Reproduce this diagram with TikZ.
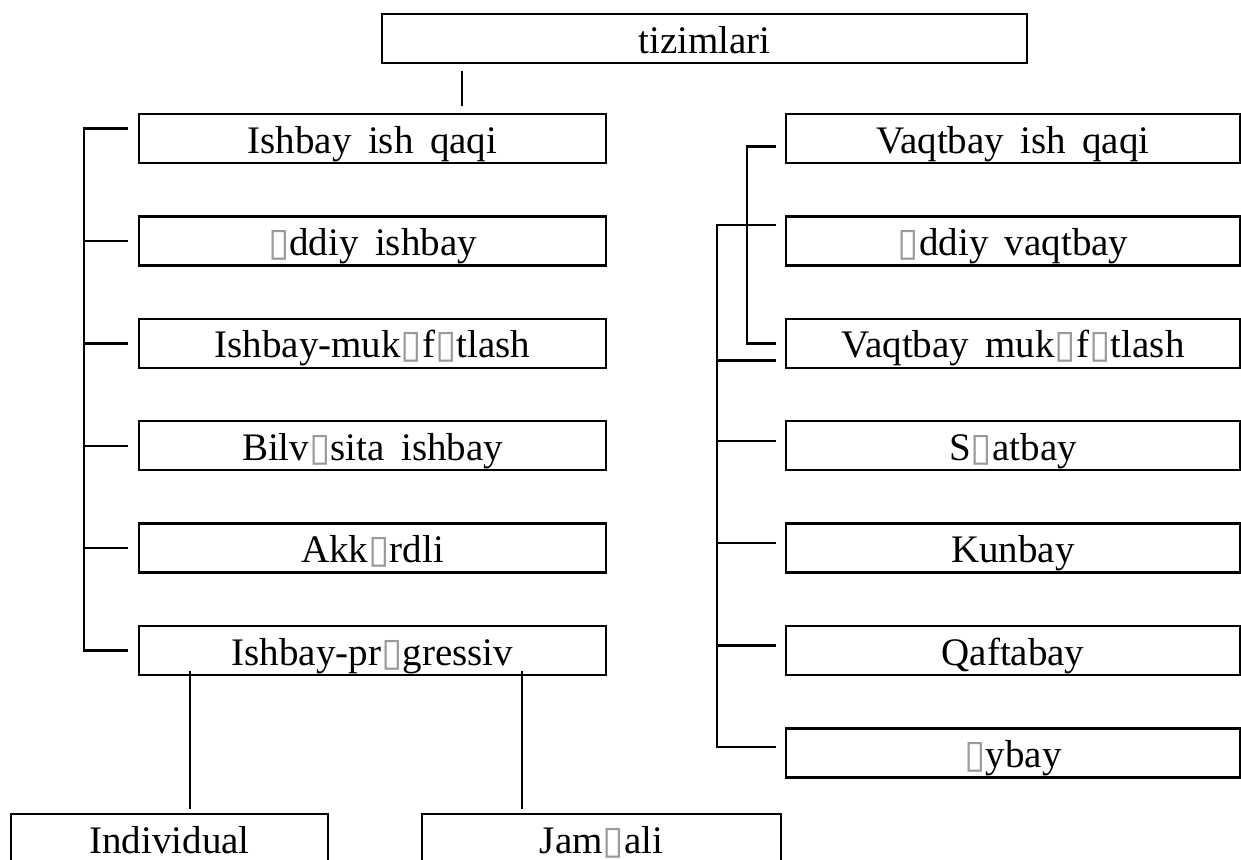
\documentclass[tikz,border=0pt]{standalone}
\usepackage{fontspec}
\setmainfont{Liberation Serif}
\newfontfamily\symfont{DejaVu Sans}
\usetikzlibrary{positioning}
\newcommand{\nochar}{{\symfont\color{gray!80}▯}}
\newcommand{\boxfont}{\fontsize{19.5}{23}\selectfont\spaceskip=0.42em\relax}

\begin{document}
\begin{tikzpicture}[
  x=0.5pt, y=-0.5pt,
  node distance=25.5pt,
  box/.style={rectangle, draw, line width=1.2pt, inner sep=0pt,
              text height=19.5pt, text depth=5pt, font=\boxfont},
  lbox/.style={box, minimum width=233.5pt},
  rbox/.style={box, minimum width=227pt},
  link/.style={line width=1.2pt},
  drop/.style={line width=0.9pt},
]
  \useasboundingbox (0,0) rectangle (1241,859);
  \node[box, minimum width=322.5pt] (top) at (704.5,38.5) {tizimlari};

  % ishbay column
  \node[lbox] (i1) at (372.5,138.5) {Ishbay ish qaqi};
  \node[lbox, below=of i1] (i2) {\nochar ddiy ishbay};
  \node[lbox, below=of i2] (i3) {Ishbay-muk\nochar f\nochar tlash};
  \node[lbox, below=of i3] (i4) {Bilv\nochar sita ishbay};
  \node[lbox, below=of i4] (i5) {Akk\nochar rdli};
  \node[lbox, below=of i5] (i6) {Ishbay-pr\nochar gressiv};

  % vaqtbay column
  \node[rbox] (v1) at (1013,138.5) {Vaqtbay ish qaqi};
  \node[rbox, below=of v1] (v2) {\nochar ddiy vaqtbay};
  \node[rbox, below=of v2] (v3) {Vaqtbay muk\nochar f\nochar tlash};
  \node[rbox, below=of v3] (v4) {S\nochar atbay};
  \node[rbox, below=of v4] (v5) {Kunbay};
  \node[rbox, below=of v5] (v6) {Qaftabay};
  \node[rbox, below=of v6] (v7) {\nochar ybay};

  \node[box, minimum width=158.5pt] (ind) at (169.5,838.5) {Individual};
  \node[box, minimum width=179.5pt] (jam) at (601.5,838.5) {Jam\nochar ali};

  \coordinate (tdx) at (462,0);
  \coordinate (lbus) at (84,0);
  \coordinate (ibus) at (747,0);
  \coordinate (obus) at (717,0);
  \coordinate (indx) at (190,0);
  \coordinate (jamx) at (522,0);

  \draw[drop] ([yshift=-3.5pt]top.south -| tdx) -- ([yshift=3.5pt]i1.north -| tdx);

  % left bracket
  \draw[link] ([xshift=-5pt,yshift=5pt]i1.west) -| (lbus |- i6.west) -- ([xshift=-5pt]i6.west);
  \foreach \n in {2,...,5}
    \draw[link] ([xshift=-5pt]i\n.west) -- (lbus |- i\n.west);

  % right brackets
  \draw[link] ([xshift=-4.5pt,yshift=-4pt]v1.west) -| (ibus |- v3.west) -- ([xshift=-4.5pt]v3.west);
  \coordinate (v7t) at ([xshift=-4.5pt,yshift=3pt]v7.west);
  \draw[link] ([xshift=-4.5pt,yshift=8pt]v2.west) -| (obus |- v7t) -- (v7t);
  \coordinate (v3t) at ([xshift=-4.5pt,yshift=-8.5pt]v3.west);
  \draw[link] (v3t) -- (obus |- v3t);
  \foreach \n in {4,...,6} {
    \coordinate (vt) at ([xshift=-4.5pt,yshift=2.5pt]v\n.west);
    \draw[link] (vt) -- (obus |- vt);
  }

  % progressiv split
  \draw[drop] ([yshift=2.5pt]i6.south -| indx) -- ([yshift=2pt]ind.north -| indx);
  \draw[drop] ([yshift=2.5pt]i6.south -| jamx) -- ([yshift=2pt]jam.north -| jamx);
\end{tikzpicture}
\end{document}
